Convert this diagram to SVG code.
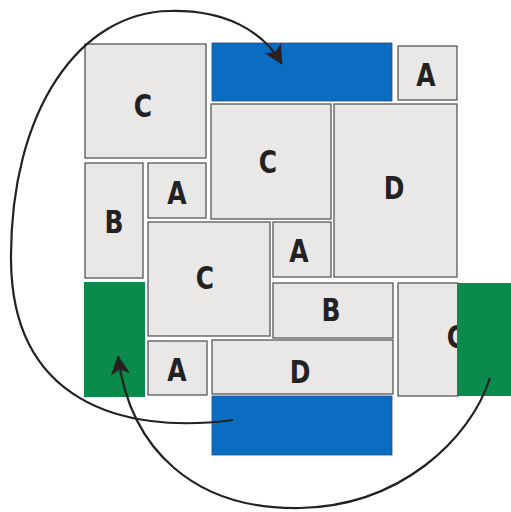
<svg xmlns="http://www.w3.org/2000/svg" width="511" height="512" viewBox="0 0 511 512">
<defs>
<style>
.t{fill:#e9e8e6;stroke:#4a4a4a;stroke-width:1.2}
.b{fill:#0a6dc2;stroke:#2a4a80;stroke-width:0.8}
.g{fill:#0b8b4b}
.l{font-family:"DejaVu Sans","Liberation Sans",sans-serif;font-weight:bold;font-size:32px;fill:#222;text-anchor:middle}
.c{fill:none;stroke:#222;stroke-width:2.2}
</style>
<marker id="ah" viewBox="0 0 10 10" refX="9" refY="5" markerWidth="8" markerHeight="8" markerUnits="userSpaceOnUse" orient="auto" style="overflow:visible">
<path d="M0,0 L10,5 L0,10 L2.5,5 Z" fill="#2a1f22" transform="scale(2.4) translate(-5.8,-2.9)"/>
</marker>
</defs>
<rect width="511" height="512" fill="#ffffff"/>
<g id="c1"><rect class="t" x="85" y="44" width="121" height="114"/><text class="l" transform="translate(143,117) scale(0.78,1)">C</text></g>
<g id="blue-top"><rect class="b" x="212" y="43" width="180" height="58"/></g>
<g id="a1"><rect class="t" x="398" y="46" width="59" height="54"/><text class="l" transform="translate(426,86) scale(0.78,1)">A</text></g>
<g id="c2"><rect class="t" x="211" y="104" width="120" height="115"/><text class="l" transform="translate(268,173) scale(0.78,1)">C</text></g>
<g id="d1"><rect class="t" x="334" y="104" width="123" height="173"/><text class="l" transform="translate(394,199) scale(0.78,1)">D</text></g>
<g id="b1"><rect class="t" x="85" y="163" width="58" height="115"/><text class="l" transform="translate(114,233) scale(0.78,1)">B</text></g>
<g id="a2"><rect class="t" x="148" y="163" width="58" height="55"/><text class="l" transform="translate(177,204) scale(0.78,1)">A</text></g>
<g id="c3"><rect class="t" x="148" y="222" width="122" height="114"/><text class="l" transform="translate(205,289) scale(0.78,1)">C</text></g>
<g id="a3"><rect class="t" x="273" y="222" width="58" height="55"/><text class="l" transform="translate(299,262) scale(0.78,1)">A</text></g>
<g id="b2"><rect class="t" x="273" y="283" width="120" height="55"/><text class="l" transform="translate(331,321) scale(0.78,1)">B</text></g>
<g id="c4"><rect class="t" x="398" y="283" width="60" height="113"/><text class="l" transform="translate(456,348) scale(0.78,1)">C</text></g>
<g id="green-right"><rect class="g" x="457" y="283" width="54" height="113"/></g>
<g id="d2"><rect class="t" x="212" y="340" width="181" height="54"/><text class="l" transform="translate(300,383) scale(0.78,1)">D</text></g>
<g id="a4"><rect class="t" x="148" y="341" width="59" height="54"/><text class="l" transform="translate(177,381) scale(0.78,1)">A</text></g>
<g id="green-left"><rect class="g" x="84" y="282" width="61" height="115"/></g>
<g id="blue-bottom"><rect class="b" x="212" y="396" width="180" height="59"/></g>
<g id="connectors">
<path class="c" marker-end="url(#ah)" d="M233,420 C 120,435 12,400 11,260 C 10,110 80,12 170,11 C 225,10 262,30 282,64"/>
<path class="c" marker-end="url(#ah)" d="M490,378 C 470,440 400,506 300,508 C 195,510 130,450 118,356"/>
</g>
</svg>
